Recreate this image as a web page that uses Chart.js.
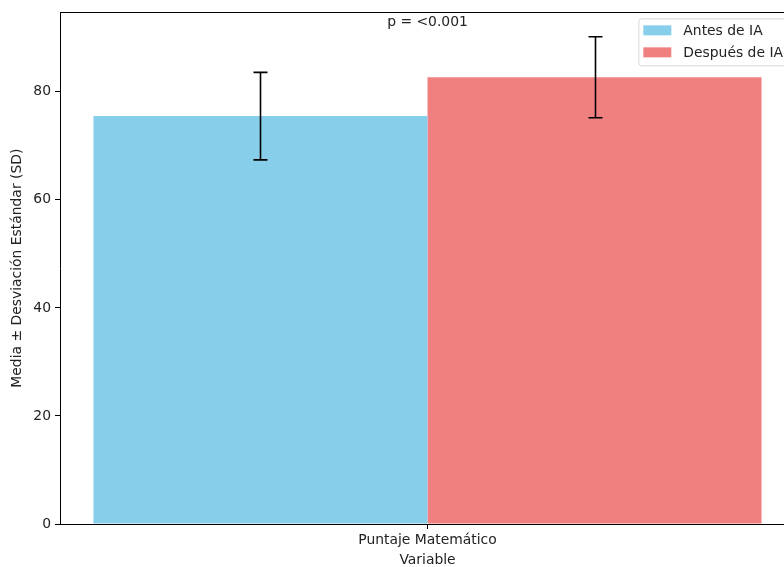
<html>

<head>
  <meta charset="utf-8">
  <style>
    html,
    body {
      margin: 0;
      padding: 0;
      overflow: hidden;
      background: #fff;
    }
  </style>
</head>

<body>
  <canvas id="myChart" width="800" height="567" style="width:800px;height:567px"></canvas>
  <script src="https://cdn.jsdelivr.net/npm/chart.js@4.4.0/dist/chart.umd.min.js"></script>
  <script type="text/javascript">
    const categories = ['Puntaje Matemático'];
    const seriesNames = ['Antes de IA', 'Después de IA'];
    const means = [75.5, 82.7];
    const sds = [8.1, 7.5];
    const colors = ['#87CEEB', '#F08080'];
    const yTicks = [0, 20, 40, 60, 80];
    const pLabel = 'p = <0.001';

    const font = { family: 'DejaVu Sans', size: 13.9 };
    const textColor = '#222';
    Chart.defaults.font.family = font.family;
    Chart.defaults.font.size = font.size;
    Chart.defaults.color = textColor;

    const yMax = Math.max(...means.map((m, i) => m + sds[i])) * 1.05;

    // error bars, frame, p-value text, legend box
    const overlay = {
      id: 'overlay',
      afterDatasetsDraw(chart) {
        const { ctx, chartArea: a, scales: { x, y } } = chart;
        ctx.save();
        ctx.strokeStyle = '#000';
        ctx.lineWidth = 1.6;
        chart.data.datasets.forEach((ds, i) => {
          const bar = chart.getDatasetMeta(i).data[0];
          const bx = Math.round(bar.x) + 0.5;
          const top = y.getPixelForValue(means[i] + sds[i]);
          const bot = y.getPixelForValue(means[i] - sds[i]);
          ctx.beginPath();
          ctx.moveTo(bx, top); ctx.lineTo(bx, bot);
          ctx.moveTo(bx - 7, top); ctx.lineTo(bx + 7, top);
          ctx.moveTo(bx - 7, bot); ctx.lineTo(bx + 7, bot);
          ctx.stroke();
        });

        // top and right spines
        ctx.lineWidth = 1;
        ctx.beginPath();
        ctx.moveTo(Math.round(a.left) + 0.5, Math.round(a.top) + 0.5);
        ctx.lineTo(Math.round(a.right) + 0.5, Math.round(a.top) + 0.5);
        ctx.lineTo(Math.round(a.right) + 0.5, Math.round(a.bottom) + 0.5);
        ctx.stroke();

        ctx.font = font.size + 'px ' + font.family;
        ctx.fillStyle = textColor;
        ctx.textAlign = 'center';
        ctx.textBaseline = 'middle';
        ctx.fillText(pLabel, x.getPixelForValue(0), a.top + 10);

        // legend (upper right)
        ctx.textAlign = 'left';
        const maxW = Math.max(...chart.data.datasets.map(d => ctx.measureText(d.label).width));
        const boxW = 5 + 28 + 12 + maxW + 5;
        const boxR = a.right - 7;
        const boxL = boxR - boxW;
        const boxT = a.top + 6;
        const rowH = 22;
        const boxH = 3 + rowH * chart.data.datasets.length;
        ctx.beginPath();
        ctx.roundRect(boxL + 0.5, boxT + 0.5, boxW, boxH, 3);
        ctx.fillStyle = 'rgba(255,255,255,0.8)';
        ctx.fill();
        ctx.strokeStyle = '#d6d6d6';
        ctx.stroke();
        chart.data.datasets.forEach((d, i) => {
          const cy = boxT + 12 + i * rowH;
          ctx.fillStyle = d.backgroundColor;
          ctx.fillRect(boxL + 5, cy - 5, 28, 10);
          ctx.fillStyle = textColor;
          ctx.fillText(d.label, boxL + 45, cy + 1);
        });
        ctx.restore();
      }
    };

    const ctx = document.getElementById('myChart');
    new Chart(ctx, {
      type: 'bar',
      data: {
        labels: categories,
        datasets: seriesNames.map((name, i) => ({
          label: name,
          data: [means[i]],
          backgroundColor: colors[i],
          borderWidth: 0,
          categoryPercentage: 0.909,
          barPercentage: 1.0,
        })),
      },
      options: {
        responsive: false,
        animation: false,
        layout: { padding: { top: 11, right: 5, left: 0, bottom: 0 } },
        plugins: {
          legend: { display: false },
          tooltip: { enabled: false },
        },
        scales: {
          x: {
            offset: true,
            grid: { display: true, offset: false, drawOnChartArea: false, drawTicks: true, tickLength: 5, tickColor: '#000' },
            border: { display: true, color: '#000', width: 1 },
            ticks: { padding: 3 },
            title: { display: true, text: 'Variable', font: { lineHeight: 0.9 }, padding: 0 },
            afterFit: s => { s.height = 43; },
          },
          y: {
            min: 0,
            max: yMax,
            grid: { display: true, drawOnChartArea: false, drawTicks: true, tickLength: 5, tickColor: '#000' },
            border: { display: true, color: '#000', width: 1 },
            ticks: { stepSize: 20, padding: 4 },
            afterBuildTicks: s => { s.ticks = s.ticks.filter(t => yTicks.includes(t.value)); },
            title: { display: true, text: 'Media ± Desviación Estándar (SD)', padding: { top: 9, bottom: 0 } },
            afterFit: s => { s.width = 60; },
          },
        },
      },
      plugins: [overlay],
    });
  </script>
</body>

</html>
